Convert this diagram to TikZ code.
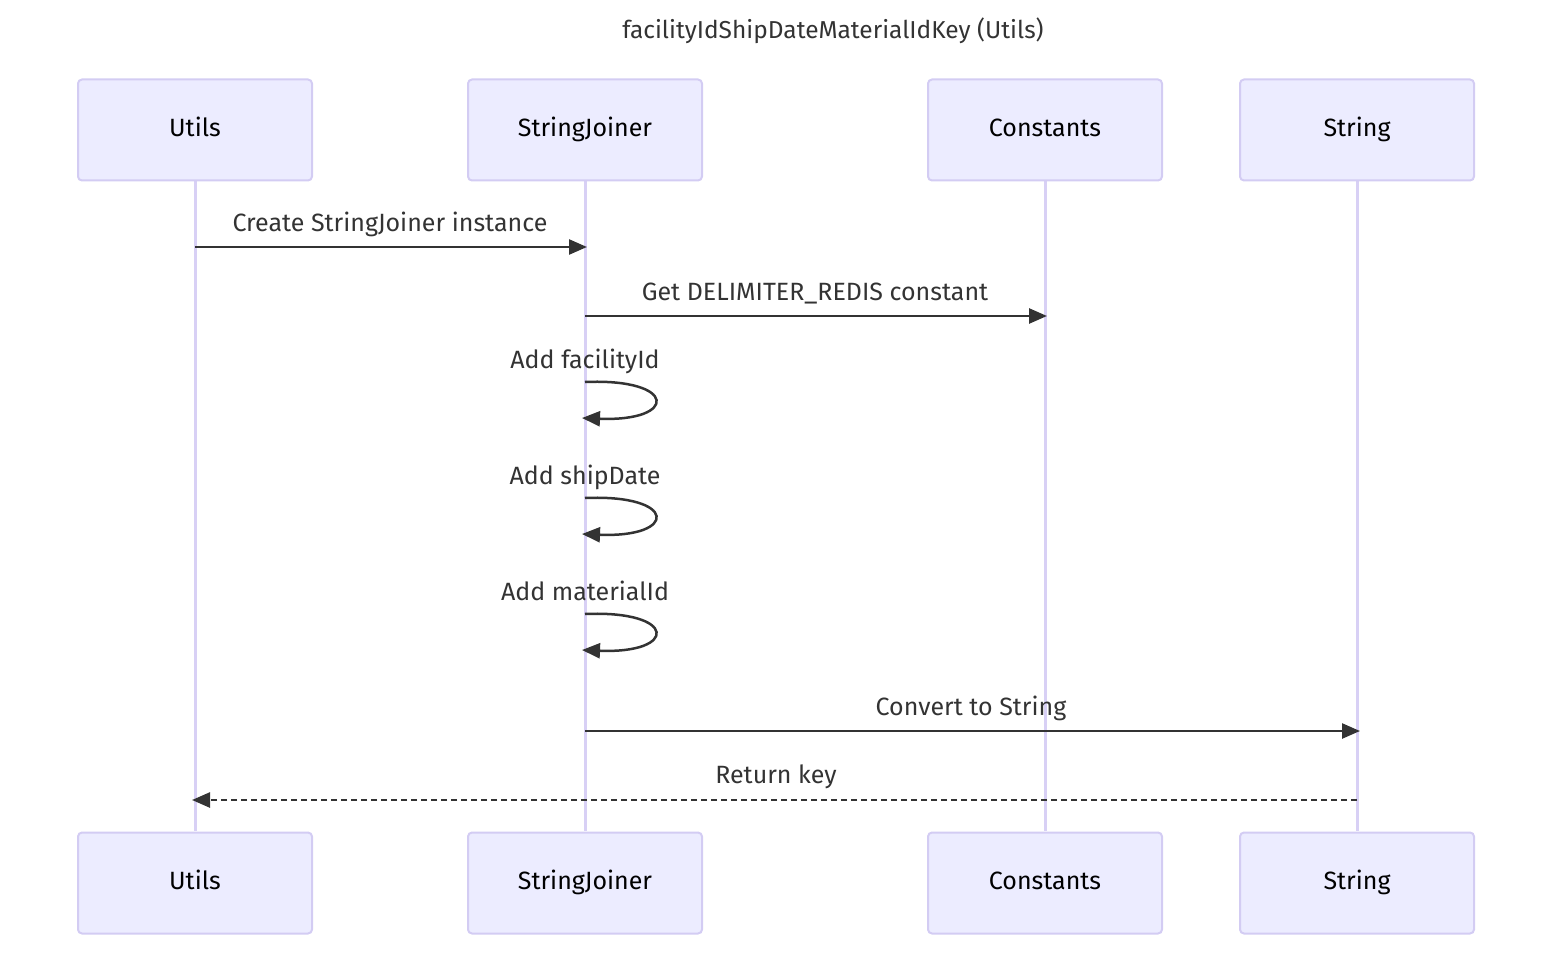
\documentclass[tikz,border=0pt]{standalone}
\usepackage{fontspec}
\setmainfont{Fira Sans}
\usetikzlibrary{arrows.meta}
\definecolor{actfill}{HTML}{ECECFF}
\definecolor{actdraw}{HTML}{D3CCF3}
\definecolor{lifecol}{HTML}{D8D0F5}
\definecolor{msgcol}{HTML}{333333}
\tikzset{
  actor/.style={draw=actdraw, line width=2pt, fill=actfill, rounded corners=4pt, minimum width=234pt, minimum height=101pt, inner sep=0pt, font=\fontsize{25}{28}\selectfont, text=black, text height=17pt, text depth=4pt},
  life/.style={draw=lifecol, line width=3pt},
  msg/.style={draw=msgcol, line width=2.5pt, -{Triangle[length=18pt,width=15pt]}},
  lbl/.style={font=\fontsize{25}{28}\selectfont, text=msgcol, inner sep=0pt, text height=17pt, text depth=4pt},
}
\begin{document}
\begin{tikzpicture}[x=1pt,y=-1pt]
\useasboundingbox (0,0) rectangle (1568,960);
\node[font=\fontsize{24.5}{28}\selectfont, text=msgcol] (title) at (833,31) {facilityIdShipDateMaterialIdKey (Utils)};
% lifelines
\foreach \n/\x in {u/195,s/585,c/1045,t/1357}{
  \coordinate (\n top) at (\x,179);
  \coordinate (\n bot) at (\x,831);
  \draw[life] (\n top) -- (\n bot);
}
\node[actor] (u1) at (195,130) {Utils};
\node[actor] (s1) at (585,130) {StringJoiner};
\node[actor] (c1) at (1045,130) {Constants};
\node[actor] (t1) at (1357,130) {String};
\node[actor] (u2) at (195,883) {Utils};
\node[actor] (s2) at (585,883) {StringJoiner};
\node[actor] (c2) at (1045,883) {Constants};
\node[actor] (t2) at (1357,883) {String};
% messages
\coordinate (m1a) at (195,247); \coordinate (m1b) at (587,247);
\draw[msg] (m1a) -- (m1b);
\node[lbl] (l1) at (390,225) {Create StringJoiner instance};
\coordinate (m2a) at (585,316); \coordinate (m2b) at (1047,316);
\draw[msg] (m2a) -- (m2b);
\node[lbl] (l2) at (815,294) {Get DELIMITER\_REDIS constant};
\foreach \y/\t/\k in {382/Add facilityId/a, 498/Add shipDate/b, 614/Add materialId/c}{
  \coordinate (sa\k) at (585,\y);
  \coordinate (sb\k) at (582,\y+36);
  \draw[msg] (sa\k) .. controls (678,\y-4) and (678,\y+40) .. (sb\k);
  \node[lbl] (ls\k) at (585,\y-20) {\t};
}
\coordinate (m3a) at (585,731); \coordinate (m3b) at (1360,731);
\draw[msg] (m3a) -- (m3b);
\node[lbl] (l3) at (971,709) {Convert to String};
\coordinate (m4a) at (1357,800); \coordinate (m4b) at (192,800);
\draw[msg, dash pattern=on 6pt off 4pt] (m4a) -- (m4b);
\node[lbl] (l4) at (776,777) {Return key};
\end{tikzpicture}
\end{document}
